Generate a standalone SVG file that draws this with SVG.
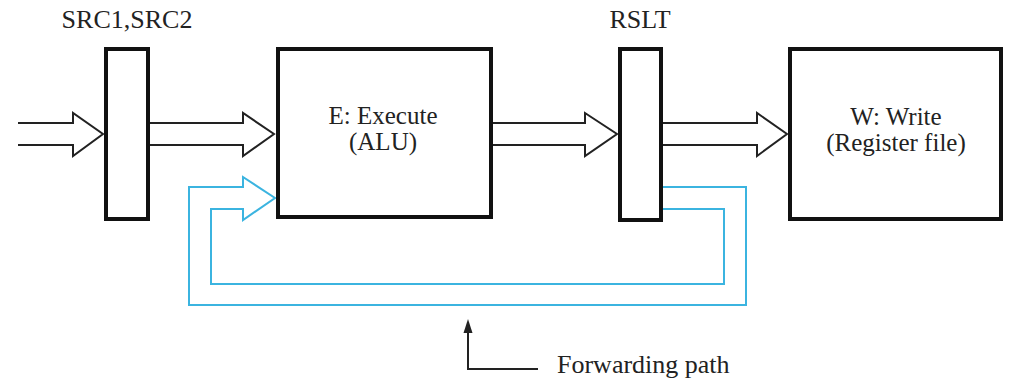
<svg xmlns="http://www.w3.org/2000/svg" width="1013" height="383" viewBox="0 0 1013 383">
<style>
.box{fill:#fff;stroke:#111;stroke-width:4}
.arr{fill:none;stroke:#222;stroke-width:2;stroke-linejoin:miter}
.fwd{fill:none;stroke:#3bb4e0;stroke-width:2}
text{font-family:"Liberation Serif","Times New Roman",serif;font-size:26px;fill:#222;text-anchor:middle}
.in{font-size:25px}
</style>
<rect width="1013" height="383" fill="#fff"/>
<g id="connectors">
<path class="arr" d="M18,123 H73 V113 L103,134 L73,156 V145 H18"/>
<path class="arr" d="M150,123 H243 V113 L274,134 L243,156 V145 H150"/>
<path class="arr" d="M493,123 H585 V113 L617,134 L585,156 V145 H493"/>
<path class="arr" d="M663,123 H757 V113 L787,134 L757,156 V145 H663"/>
<path class="fwd" d="M663,187 H746 V305 H189 V187 H243 V177 L275,198 L243,220 V209 H211 V284 H724 V209 H663"/>
<path d="M538,369 H468 V330" fill="none" stroke="#222" stroke-width="2"/>
<polygon points="463.5,333 472.5,333 468,319" fill="#222"/>
</g>
<g id="reg1"><rect class="box" x="106" y="49" width="42" height="170"/></g>
<g id="execute"><rect class="box" x="278" y="49" width="213" height="168"/>
<text class="in" x="383" y="124">E: Execute</text><text class="in" x="383" y="150">(ALU)</text></g>
<g id="reg2"><rect class="box" x="620" y="49" width="41" height="171"/></g>
<g id="write"><rect class="box" x="790" y="49" width="211" height="170"/>
<text class="in" x="896" y="125">W: Write</text><text class="in" x="896" y="151">(Register file)</text></g>
<g id="labels">
<text x="127" y="28">SRC1,SRC2</text>
<text x="640" y="28">RSLT</text>
<text x="557" y="373" style="text-anchor:start">Forwarding path</text>
</g>
</svg>
